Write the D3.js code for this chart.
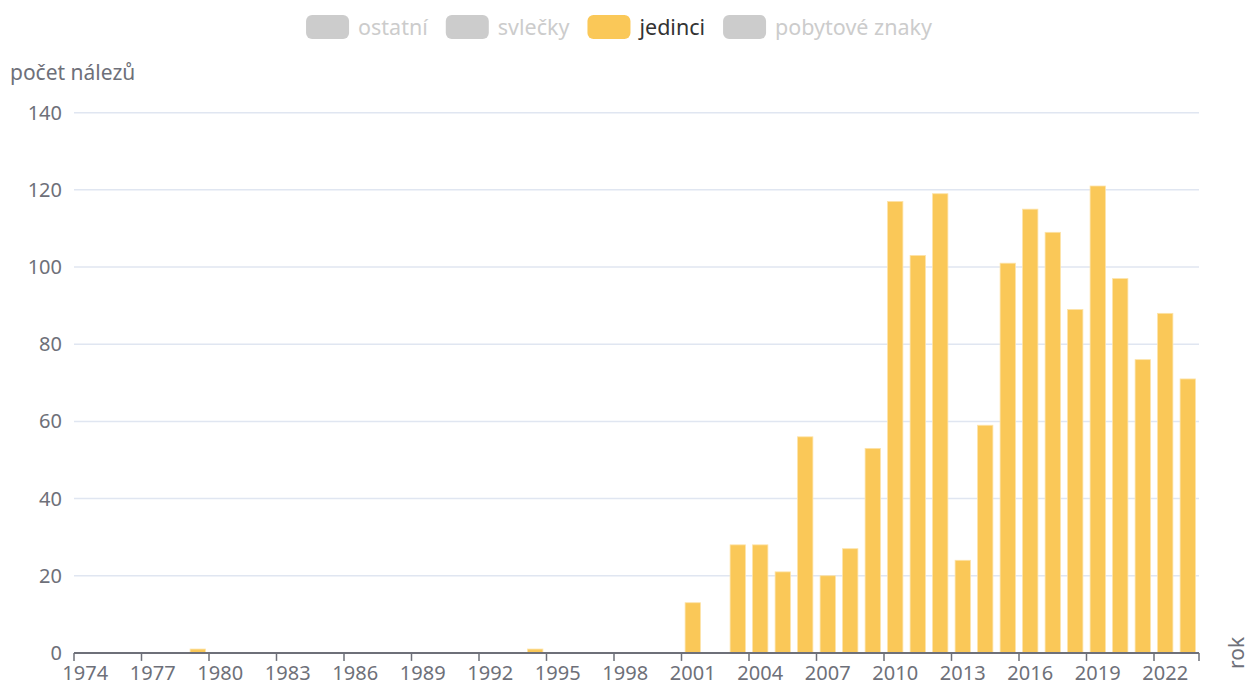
<!DOCTYPE html>
<html>
<head>
<meta charset="utf-8">
<script src="https://cdn.jsdelivr.net/npm/d3@7"></script>
<style>
  body { margin: 0; background: #fff; }
  svg { display: block; font-family: "Noto Sans", sans-serif; }
</style>
</head>
<body>
<svg id="chart" width="1253" height="685"></svg>
<script>
// data
const years = d3.range(1974, 2024);
const jedinci = [
  0, 0, 0, 0, 0, 1, 0, 0, 0, 0,
  0, 0, 0, 0, 0, 0, 0, 0, 0, 0,
  1, 0, 0, 0, 0, 0, 0, 13, 0, 28,
  28, 21, 56, 20, 27, 53, 117, 103, 119, 24,
  59, 101, 115, 109, 89, 121, 97, 76, 88, 71
];
const legendNames = ["ostatní", "svlečky", "jedinci", "pobytové znaky"];
const legendOn = [false, false, true, false];
const yTicks = [0, 20, 40, 60, 80, 100, 120, 140];

const svg = d3.select("#chart");
const plotLeft = 74, plotRight = 1199, plotTop = 112.7, plotBottom = 652.9;
const barColor = "#fac858";
const axisColor = "#6E7079";

const x = d3.scaleBand().domain(years).range([plotLeft, plotRight])
  .paddingInner(0.32).paddingOuter(0.16);
const y = d3.scaleLinear().domain([0, 140]).range([plotBottom, plotTop]);

// grid lines
svg.append("g").selectAll("line")
  .data(yTicks.filter(d => d > 0))
  .enter().append("line")
  .attr("x1", plotLeft).attr("x2", plotRight)
  .attr("y1", d => y(d)).attr("y2", d => y(d))
  .attr("stroke", "#E0E6F1").attr("stroke-width", 1.5);

// y labels
svg.append("g").selectAll("text")
  .data(yTicks)
  .enter().append("text")
  .attr("x", 62).attr("y", d => y(d))
  .attr("dy", "0.35em")
  .attr("text-anchor", "end")
  .attr("fill", axisColor)
  .style("font-size", "20px")
  .text(d => d);

// bars
svg.append("g").selectAll("rect")
  .data(years.map((yr, i) => ({ yr, v: jedinci[i] })).filter(d => d.v > 0))
  .enter().append("rect")
  .attr("x", d => x(d.yr))
  .attr("width", x.bandwidth())
  .attr("y", d => y(d.v))
  .attr("height", d => y(0) - y(d.v))
  .attr("fill", barColor)
  .attr("stroke", "#fde3a8").attr("stroke-width", 0.8);

// x axis
const step = x.step();
const tickPos = years.map((yr, i) => i).filter(i => i % 3 === 0).map(i => plotLeft + i * step);
tickPos.push(plotRight);
const xg = svg.append("g");
xg.append("line")
  .attr("x1", plotLeft).attr("x2", plotRight)
  .attr("y1", plotBottom).attr("y2", plotBottom)
  .attr("stroke", axisColor).attr("stroke-width", 2);
xg.selectAll("line.tick")
  .data(tickPos)
  .enter().append("line").attr("class", "tick")
  .attr("x1", d => d).attr("x2", d => d)
  .attr("y1", plotBottom).attr("y2", plotBottom + 8)
  .attr("stroke", axisColor).attr("stroke-width", 1.5);
xg.selectAll("text")
  .data(years.filter((yr, i) => i % 3 === 0))
  .enter().append("text")
  .attr("x", d => x(d) + x.bandwidth() / 2)
  .attr("y", 680)
  .attr("text-anchor", "middle")
  .attr("fill", axisColor)
  .style("font-size", "20px")
  .text(d => d);

// axis names
svg.append("text")
  .attr("x", 10).attr("y", 80)
  .attr("fill", axisColor)
  .style("font-size", "21px")
  .text("počet nálezů");
svg.append("text")
  .attr("transform", `translate(1244, ${plotBottom}) rotate(-90)`)
  .attr("text-anchor", "middle")
  .attr("fill", axisColor)
  .style("font-size", "21px")
  .text("rok");

// legend
const lg = svg.append("g");
const items = lg.selectAll("g")
  .data(legendNames)
  .enter().append("g");
items.append("rect")
  .attr("width", 43).attr("height", 24).attr("rx", 6)
  .attr("y", 15)
  .attr("fill", (d, i) => legendOn[i] ? barColor : "#ccc");
items.append("text")
  .attr("x", 52).attr("y", 27).attr("dy", "0.35em")
  .attr("fill", (d, i) => legendOn[i] ? "#333" : "#ccc")
  .style("font-size", "21.5px")
  .text(d => d);
const widths = [];
items.each(function () {
  const w = 52 + d3.select(this).select("text").node().getComputedTextLength();
  widths.push(w);
});
const gap = 18;
const total = d3.sum(widths) + gap * (widths.length - 1);
let cx = 619 - total / 2;
items.attr("transform", (d, i) => {
  const t = `translate(${cx},0)`;
  cx += widths[i] + gap;
  return t;
});
</script>
</body>
</html>
